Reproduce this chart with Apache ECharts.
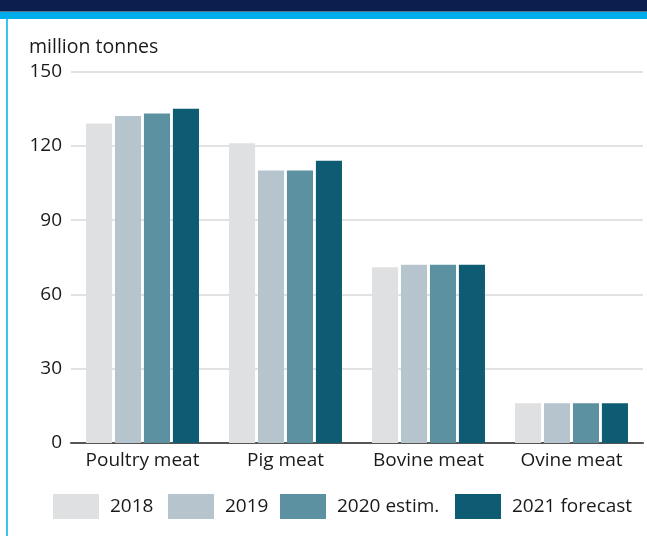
<!DOCTYPE html>
<html>
<head>
<meta charset="utf-8">
<script src="https://cdn.jsdelivr.net/npm/echarts@6/dist/echarts.min.js"></script>
<style>
html,body{margin:0;padding:0;background:#fff;}
#chart{width:647px;height:536px;}
</style>
</head>
<body>
<div id="chart"></div>
<script>
var categories = ['Poultry meat', 'Pig meat', 'Bovine meat', 'Ovine meat'];
var seriesNames = ['2018', '2019', '2020 estim.', '2021 forecast'];
var v2018 = [129, 121, 71, 16];
var v2019 = [132, 110, 72, 16];
var v2020 = [133, 110, 72, 16];
var v2021 = [135, 114, 72, 16];
var yTicks = [0, 30, 60, 90, 120, 150];
var colors = ['#dfe0e2', '#b6c5cd', '#5b91a1', '#0e5c73'];
var values = [v2018, v2019, v2020, v2021];
var legendLefts = [53, 168, 280, 455];

var font = '"Open Sans", "Noto Sans", sans-serif';
var fs = 19;
var chart = echarts.init(document.getElementById('chart'), null, {renderer: 'canvas'});

var series = seriesNames.map(function (name, i) {
  return {
    name: name,
    type: 'bar',
    data: values[i],
    itemStyle: {color: colors[i]},
    barGap: '11%',
    barCategoryGap: '21%',
    animation: false
  };
});

var legends = seriesNames.map(function (name, i) {
  return {
    data: [name],
    left: legendLefts[i],
    top: 494,
    padding: 0,
    itemWidth: 46,
    itemHeight: 25,
    icon: 'rect',
    textStyle: {fontSize: fs, color: '#1a1a1a', fontFamily: font, padding: [0, 0, 0, 6]}
  };
});

chart.setOption({
  animation: false,
  textStyle: {fontFamily: font},
  graphic: [
    {type: 'rect', shape: {x: 0, y: 0, width: 647, height: 11}, style: {fill: '#0b1f4f'}, z: 10},
    {type: 'rect', shape: {x: 0, y: 11, width: 647, height: 1}, style: {fill: '#5a6e8a'}, z: 10},
    {type: 'rect', shape: {x: 0, y: 12, width: 647, height: 7}, style: {fill: '#00adeb'}, z: 10},
    {type: 'rect', shape: {x: 6, y: 19, width: 2, height: 517}, style: {fill: '#3cc3f0'}, z: 10},
    {type: 'text', left: 29, top: 37, style: {text: 'million tonnes', font: '19.5px ' + font, fill: '#1a1a1a'}, z: 10}
  ],
  grid: {left: 71, right: 4, top: 71.5, bottom: 93, containLabel: false},
  legend: legends,
  xAxis: {
    type: 'category',
    data: categories,
    axisLine: {lineStyle: {color: '#555', width: 2}},
    axisTick: {show: false},
    axisLabel: {fontSize: fs, color: '#1a1a1a', margin: 8, fontFamily: font, interval: 0}
  },
  yAxis: {
    type: 'value',
    min: 0,
    max: 150,
    interval: 30,
    axisLine: {show: false},
    axisTick: {show: false},
    axisLabel: {fontSize: fs, color: '#1a1a1a', margin: 9, fontFamily: font,
      formatter: function (v) { return yTicks.indexOf(v) >= 0 ? String(v) : ''; }},
    splitLine: {lineStyle: {color: '#d9d9d9', width: 1.5}}
  },
  series: series
});
</script>
</body>
</html>
